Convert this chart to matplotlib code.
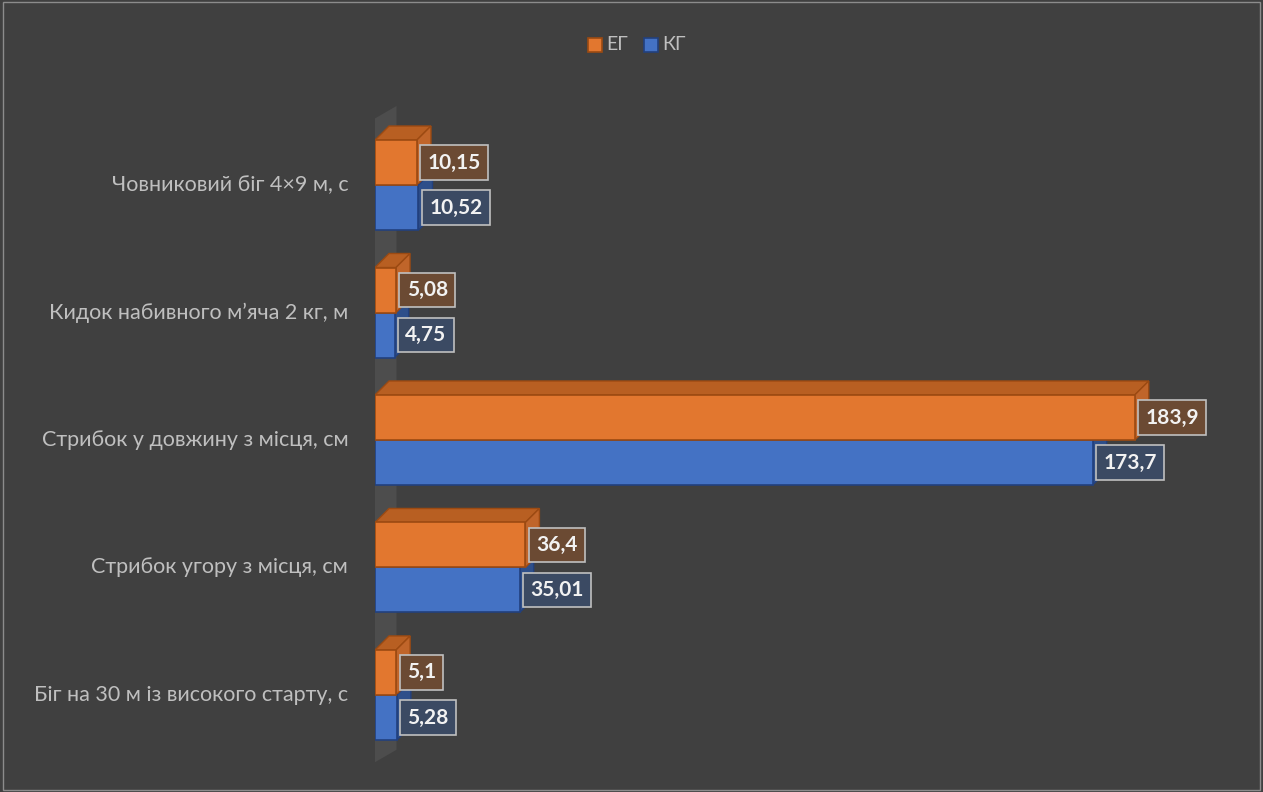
import matplotlib.pyplot as plt
from matplotlib.patches import Polygon, Rectangle

categories = ['Біг на 30 м із високого старту, с',
              'Стрибок угору з місця, см',
              'Стрибок у довжину з місця, см',
              'Кидок набивного м’яча 2 кг, м',
              'Човниковий біг 4×9 м, с']
eg = [5.1, 36.4, 183.9, 5.08, 10.15]
kg = [5.28, 35.01, 173.7, 4.75, 10.52]
eg_labels = ['5,1', '36,4', '183,9', '5,08', '10,15']
kg_labels = ['5,28', '35,01', '173,7', '4,75', '10,52']

bg = '#404040'
fig = plt.figure(figsize=(12.63, 7.92), dpi=100, facecolor=bg)
ax = fig.add_axes([375 / 1263, 12 / 792, 875 / 1263, 680 / 792])
ax.set_facecolor(bg)
ax.set_xlim(0, 211.8)
ax.set_ylim(-0.667, 4.667)
ax.axis('off')

# border around the chart
fig.patches.append(Rectangle((0.002, 0.002), 0.996, 0.996, transform=fig.transFigure,
                             fill=False, edgecolor='#8c8c8c', lw=1))

h = 0.353
dx, dy = 3.4, 0.11

# side wall
ax.add_patch(Polygon([(-1.2, -0.55), (-1.2, 4.5), (5.2, 4.62), (5.2, -0.43)],
                     closed=True, facecolor='#4d4d4d', edgecolor='none', zorder=0))

series = [
    (kg, kg_labels, -h, '#4472C4', '#35599a', '#2e4f8a', '#22407e', '#3b4a63'),
    (eg, eg_labels, 0, '#E2772F', '#b85f22', '#c0652a', '#9c4a12', '#6b4a33'),
]
for vals, labs, off, front, top, side, edge, lab_bg in series:
    for i, v in enumerate(vals):
        y0 = i + off
        y1 = y0 + h
        ax.add_patch(Polygon([(0, y1), (v, y1), (v + dx, y1 + dy), (dx, y1 + dy)],
                             closed=True, facecolor=top, edgecolor=edge, lw=1, zorder=2))
        ax.add_patch(Polygon([(v, y0), (v, y1), (v + dx, y1 + dy), (v + dx, y0 + dy)],
                             closed=True, facecolor=side, edgecolor=edge, lw=1, zorder=2))
        ax.add_patch(Rectangle((0, y0), v, h, facecolor=front, edgecolor=edge,
                               lw=1.2, zorder=3))
        ax.text(v + 2.6, (y0 + y1) / 2, labs[i], ha='left', va='center',
                color='#f2f2f2', fontsize=15, fontweight='bold', family='Lato', zorder=5,
                bbox=dict(boxstyle='square,pad=0.35', facecolor=lab_bg,
                          edgecolor='#c0c0c0', lw=1.2))

for i, c in enumerate(categories):
    ax.text(-6.5, i, c, ha='right', va='center', color='#bfbfbf',
            fontsize=15.5, family='Lato')

# legend
lx, ly = 588 / 1263, 1 - 45 / 792
fig.patches.append(Rectangle((lx, ly - 7 / 792), 14 / 1263, 14 / 792, transform=fig.transFigure,
                             facecolor='#E2772F', edgecolor='#9c4a12', lw=1.2))
fig.text(lx + 18 / 1263, ly, 'ЕГ', color='#bfbfbf', fontsize=14, family='Lato', va='center')
fig.patches.append(Rectangle((lx + 56 / 1263, ly - 7 / 792), 14 / 1263, 14 / 792,
                             transform=fig.transFigure,
                             facecolor='#4472C4', edgecolor='#22407e', lw=1.2))
fig.text(lx + 74 / 1263, ly, 'КГ', color='#bfbfbf', fontsize=14, family='Lato', va='center')

fig.savefig('out.png', dpi=100, facecolor=bg)
